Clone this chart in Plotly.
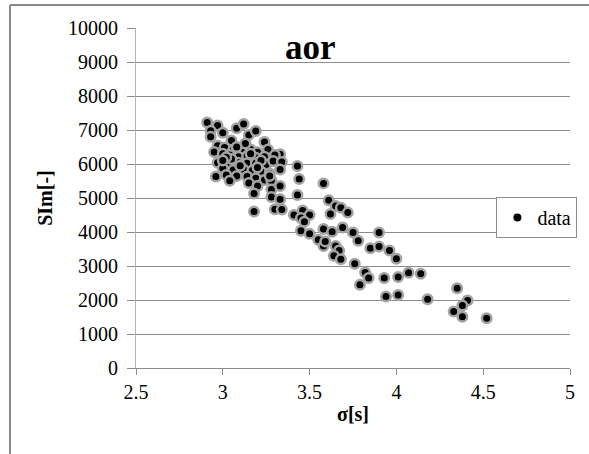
import plotly.graph_objects as go

# sigma [s] and SIm [-] for the "aor" samples
sigma = [
    2.91, 2.97, 2.93, 3.00, 2.93, 3.08, 3.12, 3.15, 3.19, 3.05,
    3.24, 2.97, 3.01, 3.06, 3.11, 3.16, 3.20, 3.26, 2.95, 3.00,
    3.04, 3.09, 3.14, 3.19, 3.24, 3.33, 3.30, 2.97, 3.03, 3.09,
    3.14, 3.19, 3.25, 3.29, 3.34, 3.43, 3.00, 3.06, 3.12, 3.17,
    3.22, 3.27, 3.33, 2.96, 3.02, 3.08, 3.14, 3.19, 3.04, 3.15,
    3.24, 3.20, 3.28, 3.44, 3.58, 3.18, 3.28, 3.33, 3.28, 3.33,
    3.43, 3.61, 3.65, 3.68, 3.72, 3.30, 3.34, 3.18, 3.41, 3.46,
    3.50, 3.45, 3.62, 3.47, 3.45, 3.50, 3.58, 3.63, 3.69, 3.75,
    3.90, 3.55, 3.58, 3.59, 3.78, 3.65, 3.67, 3.64, 3.68, 3.85,
    3.90, 3.96, 4.00, 3.76, 3.82, 3.84, 3.79, 3.93, 4.01, 4.07,
    4.14, 3.94, 4.01, 4.18, 4.35, 4.41, 4.38, 4.33, 4.38, 4.52,
    3.05, 3.16, 3.10, 3.22, 3.13, 3.02, 3.20, 3.27, 3.08, 3.00,
]
sim = [
    7220, 7130, 6980, 6920, 6800, 7050, 7175, 6850, 6970, 6690,
    6650, 6540, 6485, 6410, 6360, 6430, 6345, 6430, 6350, 6300,
    6265, 6215, 6235, 6185, 6215, 6290, 6265, 6040, 6020, 6040,
    6020, 6020, 5985, 6090, 6060, 5940, 5875, 5825, 5840, 5810,
    5780, 5720, 5840, 5630, 5680, 5650, 5635, 5580, 5505, 5440,
    5530, 5355, 5515, 5560, 5430, 5135, 5250, 5355, 5030, 4960,
    5090, 4935, 4765, 4715, 4570, 4670, 4660, 4605, 4500, 4635,
    4500, 4415, 4530, 4305, 4040, 3945, 4090, 4010, 4130, 3985,
    3985, 3770, 3590, 3720, 3740, 3590, 3455, 3300, 3200, 3525,
    3570, 3455, 3210, 3065, 2810, 2645, 2445, 2645, 2675, 2800,
    2770, 2105, 2145, 2020, 2345, 1985, 1840, 1660, 1505, 1465,
    6150, 6300, 5950, 6100, 6600, 6200, 5900, 5650, 6500, 6100,
]

x_ticks = [2.5, 3, 3.5, 4, 4.5, 5]
x_tick_text = ["2.5", "3", "3.5", "4", "4.5", "5"]
y_ticks = list(range(0, 10001, 1000))
y_tick_text = [str(v) for v in y_ticks]

SERIF = "Liberation Serif"
GRID = "#8c8c8c"

fig = go.Figure()

fig.add_trace(go.Scatter(
    x=sigma, y=sim, mode="markers", name="data", showlegend=False,
    marker=dict(size=9.5, color="black", line=dict(color="#a3a3a3", width=2.5)),
))
# legend entry: plain black dot
fig.add_trace(go.Scatter(
    x=[None], y=[None], mode="markers", name="data",
    marker=dict(size=8, color="black"),
))

fig.update_layout(
    width=589, height=454,
    margin=dict(l=136, r=19, t=28, b=86, autoexpand=False),
    paper_bgcolor="white", plot_bgcolor="white",
    font=dict(family=SERIF, size=20, color="black"),
    showlegend=True,
    legend=dict(
        x=1.017, y=0.503, xanchor="right", yanchor="top",
        bgcolor="white", bordercolor="#8c8c8c", borderwidth=1,
        font=dict(family=SERIF, size=20, color="black"), itemwidth=30,
        tracegroupgap=0,
    ),
    xaxis=dict(
        range=[2.5, 5], tickvals=x_ticks, ticktext=x_tick_text,
        showgrid=False, zeroline=False,
        showline=True, linecolor=GRID, linewidth=1,
        ticks="outside", ticklen=6, tickcolor=GRID,
        tickfont=dict(family=SERIF, size=20, color="black"),
        title=dict(text="<b>σ[s]</b>", font=dict(family=SERIF, size=20, color="black"), standoff=4),
    ),
    yaxis=dict(
        range=[0, 10000], tickvals=y_ticks, ticktext=y_tick_text,
        showgrid=True, gridcolor=GRID, gridwidth=1, zeroline=False,
        showline=True, linecolor="#b4b4b4", linewidth=1,
        ticks="outside", ticklen=8, tickcolor=GRID,
        ticklabelstandoff=5,
        tickfont=dict(family=SERIF, size=20, color="black"),
        title=dict(text="<b>SIm[-]</b>", font=dict(family=SERIF, size=20, color="black"), standoff=10),
    ),
    annotations=[dict(
        text="<b>aor</b>", xref="paper", yref="paper", x=0.401, y=0.944,
        xanchor="center", yanchor="middle", showarrow=False,
        font=dict(family=SERIF, size=35, color="black"),
    )],
    shapes=[
        # chart-area frame (left and top edges)
        dict(type="line", xref="paper", yref="paper",
             x0=-0.2903, x1=-0.2903, y0=-0.3, y1=1.0676,
             line=dict(color="#8a8a8a", width=2)),
        dict(type="line", xref="paper", yref="paper",
             x0=-0.2903, x1=1.1, y0=1.0676, y1=1.0676,
             line=dict(color="#8a8a8a", width=2)),
    ],
)

fig.write_html("out.html")
